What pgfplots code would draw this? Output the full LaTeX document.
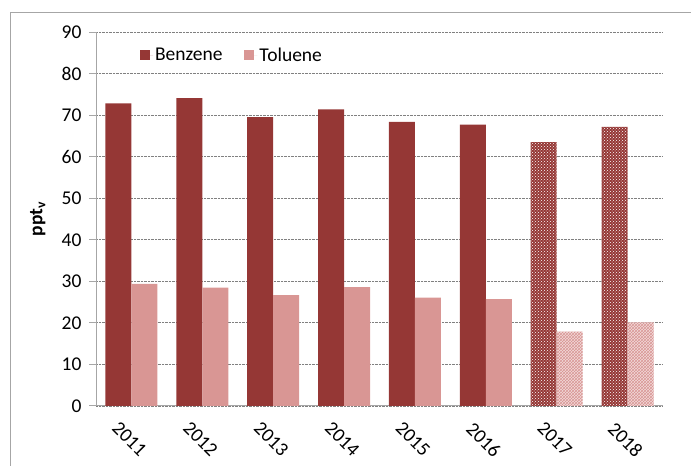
\documentclass[border=0pt]{standalone}
\usepackage{pgfplots}
\pgfplotsset{compat=1.18}
\usepackage{fontspec}
\setmainfont{Carlito}
\usetikzlibrary{patterns}
\definecolor{bzcol}{HTML}{953735}
\definecolor{tolcol}{HTML}{D99694}
\definecolor{axgray}{HTML}{A6A6A6}
\begin{document}
\begin{tikzpicture}[x=1pt,y=1pt]
\path[use as bounding box] (0,0) rectangle (691,466);
\draw[axgray, line width=1pt] (10,0) -- (10,453) -- (691,453);
\begin{axis}[
  at={(96pt,60pt)}, anchor=south west,
  width=567pt, height=374pt, scale only axis,
  xmin=-0.5, xmax=7.5, ymin=0, ymax=90,
  ytick={0,10,...,90},
  xtick={0,...,7},
  xticklabels={2011,2012,2013,2014,2015,2016,2017,2018},
  /pgf/number format/assume math mode=true,
  axis x line*=bottom, axis y line*=left,
  axis line style={-, axgray, line width=1pt},
  ymajorgrids, grid style={densely dotted, gray, line width=0.8pt},
  ytick style={axgray, line width=1pt},
  tick align=outside, major tick length=7pt,
  xtick style={draw=none},
  ticklabel style={font=\fontsize{19.5}{22}\selectfont},
  yticklabel style={xshift=-4pt},
  xticklabel style={rotate=-45, anchor=north west, yshift=-10pt, xshift=-6pt},
  ylabel={\textbf{ppt\textsubscript{v}}},
  ylabel style={font=\fontsize{19.5}{22}\selectfont, at={(axis description cs:-0.083,0.5)}},
  ybar, bar width=26pt,
  legend style={draw=none, fill=none, at={(0.072,0.938)}, anchor=west,
    legend columns=2, font=\fontsize{19.5}{22}\selectfont,
    /tikz/every even column/.append style={column sep=20pt}},
  legend image code/.code={\fill[#1] (0pt,-5pt) rectangle (10pt,5pt); \path (0pt,0pt) -- (13pt,0pt);},
]
\addplot[bzcol, fill=bzcol, bar shift=-13pt, draw=none] coordinates {(0,72.8) (1,74.1) (2,69.5) (3,71.4) (4,68.4) (5,67.7)};
\addlegendentry{Benzene}
\addplot[tolcol, fill=tolcol, bar shift=13pt, draw=none] coordinates {(0,29.4) (1,28.5) (2,26.7) (3,28.6) (4,26.1) (5,25.7)};
\addlegendentry{Toluene}
\addplot[forget plot, draw=none, fill=bzcol, bar shift=-13pt,
  postaction={pattern=crosshatch dots, pattern color=white}] coordinates {(6,63.5) (7,67.2)};
\addplot[forget plot, draw=none, fill=tolcol!35, bar shift=13pt,
  postaction={pattern=crosshatch, pattern color=tolcol}] coordinates {(6,17.9) (7,20.1)};
\end{axis}
\end{tikzpicture}
\end{document}
